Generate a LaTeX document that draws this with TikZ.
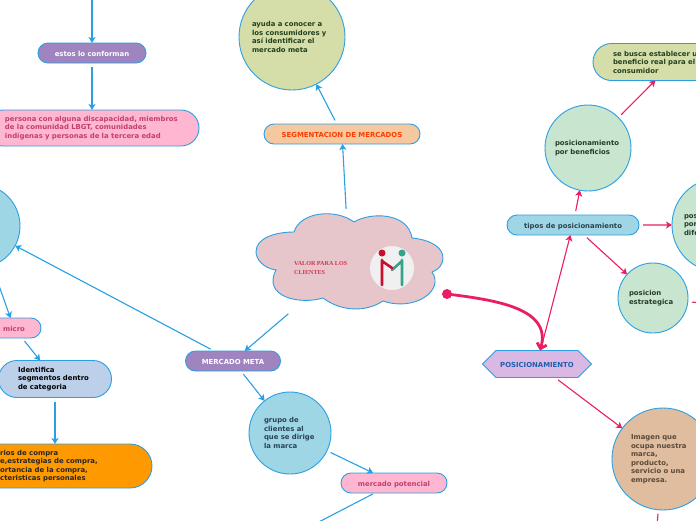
\documentclass[tikz,border=0pt]{standalone}
\usepackage{fontspec}
\setmainfont{DejaVu Sans}
\newfontfamily\cloudfont{Liberation Serif}
\usetikzlibrary{arrows.meta,shapes.misc}
\definecolor{mapblue}{HTML}{2A9FE2}
\definecolor{mapred}{HTML}{E91E63}
\definecolor{cloudpink}{HTML}{E6C6CB}
\definecolor{purplefill}{HTML}{A084C0}
\definecolor{pinkfill}{HTML}{FFB6D0}
\definecolor{pinktext}{HTML}{C0406F}
\definecolor{skyfill}{HTML}{9FD6E6}
\definecolor{skytext}{HTML}{2A4254}
\definecolor{paleblue}{HTML}{BCD0EA}
\definecolor{orangefill}{HTML}{FF9900}
\definecolor{peachfill}{HTML}{F5C8A0}
\definecolor{peachtext}{HTML}{FF3C00}
\definecolor{olivefill}{HTML}{D5DEA8}
\definecolor{olivetext}{HTML}{24401F}
\definecolor{mintfill}{HTML}{C8E6CF}
\definecolor{minttext}{HTML}{263A2C}
\definecolor{lilacfill}{HTML}{D9B8E3}
\definecolor{lilactext}{HTML}{1F5FB0}
\definecolor{tanfill}{HTML}{E0BD9F}
\definecolor{tantext}{HTML}{5A4A3A}
\definecolor{handred}{HTML}{C8102E}
\definecolor{handgreen}{HTML}{35A38C}
\tikzset{
  mapnode/.style={draw=mapblue,line width=0.9pt,inner sep=0pt,outer sep=0pt,align=left,
    font=\bfseries\fontsize{6.9}{8.5}\selectfont},
  pill/.style={mapnode,rounded rectangle,minimum height=20pt},
  oneline/.style={text height=7pt,text depth=0pt},
  disc/.style={mapnode,circle},
  bluelink/.style={draw=mapblue,line width=1.1pt,shorten <=4pt,-{Stealth[length=6pt,width=7pt,inset=1.5pt]}},
  redlink/.style={draw=mapred,line width=1.1pt,shorten <=4pt,-{Stealth[length=6pt,width=7pt,inset=1.5pt]}}
}
\begin{document}
\begin{tikzpicture}[x=1pt,y=-1pt]
\useasboundingbox (0,0) rectangle (696,520);
\clip (0,0) rectangle (696,520);

% cloud
\draw[fill=cloudpink,draw=mapblue,line width=0.9pt]
  (294,232) .. controls (300,212) and (335,208) .. (354,222)
  .. controls (370,212) and (408,212) .. (412,238)
  .. controls (432,240) and (443,248) .. (443,258)
  .. controls (443,265) and (438,270) .. (432,272)
  .. controls (445,290) and (415,312) .. (383,301)
  .. controls (365,313) and (340,311) .. (323,298)
  .. controls (300,305) and (262,297) .. (276,270)
  .. controls (262,268) and (256,258) .. (256,252)
  .. controls (256,238) and (275,232) .. (294,232) -- cycle;
\node[minimum width=188pt,minimum height=98pt,inner sep=0pt] (valor) at (349,262) {};
\node[anchor=west,inner sep=0pt,align=left,text=handred!85!white,font=\cloudfont\bfseries\fontsize{6.1}{9}\selectfont] (valortext) at (294,268.5) {VALOR PARA LOS\\CLIENTES};

% handshake
\fill[gray!12] (392,268) circle (22);
\fill[handred] (382,253) circle (3.5);
\fill[handgreen] (402,253) circle (3.5);
\draw[handgreen,line width=2.6pt,line cap=round] (402,260) -- (402,285) (402,261) -- (392,270);
\draw[handred,line width=2.6pt,line cap=round] (382,260) -- (382,285) (382,261) -- (392,268);

% left branch
\coordinate (topend) at (92,-20);
\node[pill,oneline,fill=purplefill,text=white,minimum width=108pt] (conforman) at (92,53) {estos lo conforman};
\node[pill,fill=pinkfill,text=pinktext,minimum width=214pt,minimum height=36pt,text width=174pt] (persona) at (92,128) {persona con alguna discapacidad, miembros\\de la comunidad LBGT, comunidades\\indígenas y personas de la tercera edad};
\node[disc,fill=skyfill,minimum size=84pt] (grupoleft) at (-22,226) {};
\node[pill,oneline,fill=pinkfill,text=pinktext,minimum width=54pt] (micro) at (14,328) {micro};
\node[pill,fill=paleblue,text=black,minimum width=113pt,minimum height=37pt,text width=74pt] (identifica) at (55,379) {Identifica\\segmentos dentro\\de categoria};
\node[pill,fill=orangefill,minimum width=194pt,minimum height=44pt] (criterios) at (55,466) {};
\node[anchor=west,inner sep=0pt,align=left,text=black!85,font=\bfseries\fontsize{6.9}{8.5}\selectfont] (criteriostext) at (0,466) {rios de compra\\e,estrategias de compra,\\ortancia de la compra,\\cteristicas personales};

% centre and bottom
\node[pill,oneline,fill=purplefill,text=white,minimum width=95pt] (meta) at (233,361) {MERCADO META};
\node[disc,fill=skyfill,text=skytext,minimum size=82pt,text width=52pt] (grupo) at (290,433) {grupo de\\clientes al\\que se dirige\\la marca};
\node[pill,oneline,fill=pinkfill,text=pinktext,minimum width=106pt] (potencial) at (394,483) {mercado potencial};
\coordinate (bottomend) at (284,540);

% top
\node[pill,oneline,fill=peachfill,text=peachtext,minimum width=156pt] (segmentacion) at (342,134) {SEGMENTACION DE MERCADOS};
\node[disc,fill=olivefill,text=olivetext,minimum size=106pt,text width=80pt] (ayuda) at (292,37) {ayuda a conocer a\\los consumidores y\\así identificar el\\mercado meta};

% right branch
\node[chamfered rectangle,chamfered rectangle xsep=7pt,chamfered rectangle ysep=10pt,mapnode,oneline,fill=lilacfill,text=lilactext,minimum width=109pt,minimum height=20pt,align=center] (posicionamiento) at (537,364) {POSICIONAMIENTO};
\node[pill,oneline,fill=skyfill,text=skytext,minimum width=132pt] (tipos) at (573,225) {tipos de posicionamiento};
\node[disc,fill=mintfill,text=minttext,minimum size=86pt,text width=66pt] (beneficios) at (588,148) {posicionamiento\\por beneficios};
\node[pill,fill=olivefill,text=olivetext,minimum width=162pt,minimum height=37pt,text width=122pt] (beneficio) at (674,62) {se busca establecer u\\beneficio real para el\\consumidor};
\node[disc,fill=mintfill,text=minttext,minimum size=94pt,text width=70pt] (diferencia) at (719,225) {pos\\por\\dife};
\node[disc,fill=mintfill,text=minttext,minimum size=70pt,text width=48pt] (estrategica) at (653,298) {posicion\\estrategica};
\coordinate (estrategicaend) at (730,306);
\node[disc,fill=tanfill,text=tantext,minimum size=102pt,text width=64pt] (imagen) at (663,459) {Imagen que\\ocupa nuestra\\marca,\\producto,\\servicio o una\\empresa.};
\coordinate (imagenend) at (652,580);

% connectors
\foreach \a/\b in {topend/conforman,conforman/persona,grupoleft/micro,micro/identifica,identifica/criterios,
  meta/grupoleft,valor/meta,meta/grupo,grupo/potencial,valor/segmentacion,segmentacion/ayuda}
  \draw[bluelink] (\a) -- (\b);
\draw[draw=mapblue,line width=1.1pt,shorten <=2pt] (potencial) -- (bottomend);

\foreach \a/\b in {posicionamiento/tipos,tipos/beneficios,beneficios/beneficio,tipos/diferencia,tipos/estrategica,posicionamiento/imagen}
  \draw[redlink] (\a) -- (\b);
\draw[draw=mapred,line width=1.1pt,shorten <=4pt] (estrategica) -- (estrategicaend);
\draw[draw=mapred,line width=1.1pt,shorten <=4pt] (imagen) -- (imagenend);

% thick curve
\node[circle,fill=mapred,minimum size=10pt,inner sep=0pt] (dot) at (447,294) {};
\draw[draw=mapred,line width=2.8pt,-{Straight Barb[length=5pt,width=10pt]}] (dot.center) .. controls (495,300) and (552,308) .. ([xshift=3pt]posicionamiento.north);
\end{tikzpicture}
\end{document}
